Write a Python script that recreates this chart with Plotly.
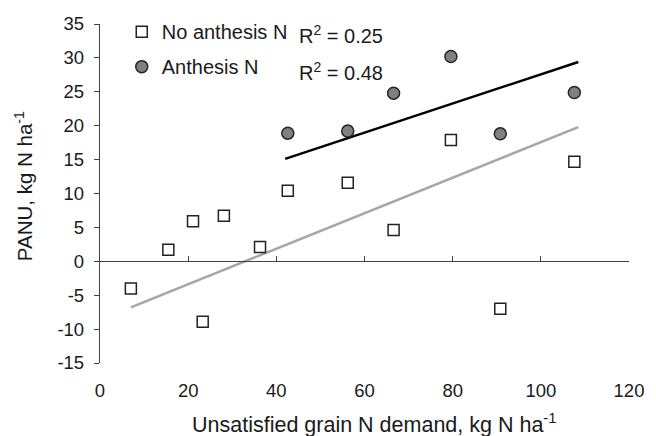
import plotly.graph_objects as go

# Unsatisfied grain N demand (kg N/ha) and PANU (kg N/ha)
no_anthesis_x = [7.0, 15.5, 21.1, 23.3, 28.1, 36.3, 42.6, 56.2, 66.6, 79.6, 90.8, 107.6]
no_anthesis_y = [-4.0, 1.7, 5.9, -8.9, 6.7, 2.1, 10.4, 11.6, 4.6, 17.9, -7.0, 14.7]

anthesis_x = [42.6, 56.2, 66.6, 79.6, 90.8, 107.6]
anthesis_y = [18.9, 19.2, 24.8, 30.2, 18.8, 24.9]

# Fitted trend lines (end points)
fit_no_anthesis_x = [7.0, 108.5]
fit_no_anthesis_y = [-6.8, 19.8]
fit_anthesis_x = [42.0, 108.5]
fit_anthesis_y = [15.1, 29.4]

r2_labels = ["R<sup>2</sup> = 0.25", "R<sup>2</sup> = 0.48"]
x_ticks = [0, 20, 40, 60, 80, 100, 120]
y_ticks = [-15, -10, -5, 0, 5, 10, 15, 20, 25, 30, 35]
y_tick_text = [str(v) for v in y_ticks]

FONT = "Liberation Sans, Arial, sans-serif"
TXT = "#1a1a1a"
AX = "#404040"

fig = go.Figure()

fig.add_trace(go.Scatter(
    x=fit_no_anthesis_x, y=fit_no_anthesis_y, mode="lines",
    line=dict(color="#a6a6a6", width=2.5), showlegend=False, hoverinfo="skip"))
fig.add_trace(go.Scatter(
    x=fit_anthesis_x, y=fit_anthesis_y, mode="lines",
    line=dict(color="#000000", width=2.5), showlegend=False, hoverinfo="skip"))

fig.add_trace(go.Scatter(
    x=no_anthesis_x, y=no_anthesis_y, mode="markers", name="No anthesis N",
    legendgroup="a",
    marker=dict(symbol="square", size=11, color="white",
                line=dict(color="#222222", width=1.5))))
fig.add_trace(go.Scatter(
    x=anthesis_x, y=anthesis_y, mode="markers", name="Anthesis N",
    legendgroup="b",
    marker=dict(symbol="circle", size=12, color="#808080",
                line=dict(color="#262626", width=1.5))))

# invisible trace that carries the zero-line axis
fig.add_trace(go.Scatter(x=[0], y=[0], xaxis="x2", mode="markers",
                         marker=dict(opacity=0), showlegend=False, hoverinfo="skip"))

fig.update_layout(
    xaxis=dict(range=[0, 120], tickvals=x_ticks,
               showline=False, showgrid=False, zeroline=False, ticks="",
               tickfont=dict(family=FONT, size=18.5, color=TXT),
               ticklabelstandoff=14),
    # horizontal axis line through zero with upward ticks
    xaxis2=dict(overlaying="x", anchor="free", position=15 / 50, side="bottom",
                range=[0, 120], tickvals=x_ticks, showticklabels=False,
                showline=True, linecolor=AX, linewidth=1.3,
                ticks="inside", ticklen=5, tickwidth=1.3, tickcolor=AX,
                showgrid=False, zeroline=False),
    yaxis=dict(range=[-15, 35], tickvals=y_ticks, ticktext=y_tick_text,
               showgrid=False, zeroline=False,
               showline=True, linecolor=AX, linewidth=1.3,
               ticks="outside", ticklen=5, tickwidth=1.3, tickcolor=AX,
               tickfont=dict(family=FONT, size=18.5, color=TXT), ticklabelstandoff=6),
)

for txt, yy in zip(r2_labels, [33.5, 28.0]):
    fig.add_annotation(x=44.6, y=yy, xref="x", yref="y", text=txt, showarrow=False,
                       xanchor="left", yanchor="middle",
                       font=dict(family=FONT, size=20, color=TXT))

# axis titles
fig.add_annotation(x=(378 - 100) / 535, y=-(423 - 363) / 341.5, xref="paper", yref="paper",
                   text="Unsatisfied grain N demand, kg N ha<sup>-1</sup>", showarrow=False,
                   xanchor="center", yanchor="middle",
                   font=dict(family=FONT, size=21.5, color=TXT))
fig.add_annotation(x=-(100 - 23) / 535, y=(363 - 185) / 341.5, xref="paper", yref="paper",
                   text="PANU, kg N ha<sup>-1</sup>", showarrow=False, textangle=-90,
                   xanchor="center", yanchor="middle",
                   font=dict(family=FONT, size=20.5, color=TXT))

fig.update_layout(
    width=656, height=436,
    margin=dict(l=100, r=21, t=21.5, b=73),
    paper_bgcolor="white", plot_bgcolor="white",
    showlegend=True,
    legend=dict(x=(122 - 100) / 535, y=1.035, xanchor="left", yanchor="top",
                bgcolor="rgba(0,0,0,0)", borderwidth=0,
                font=dict(family=FONT, size=20, color=TXT),
                tracegroupgap=6, traceorder="grouped"),
)

fig.write_html("out.html")
